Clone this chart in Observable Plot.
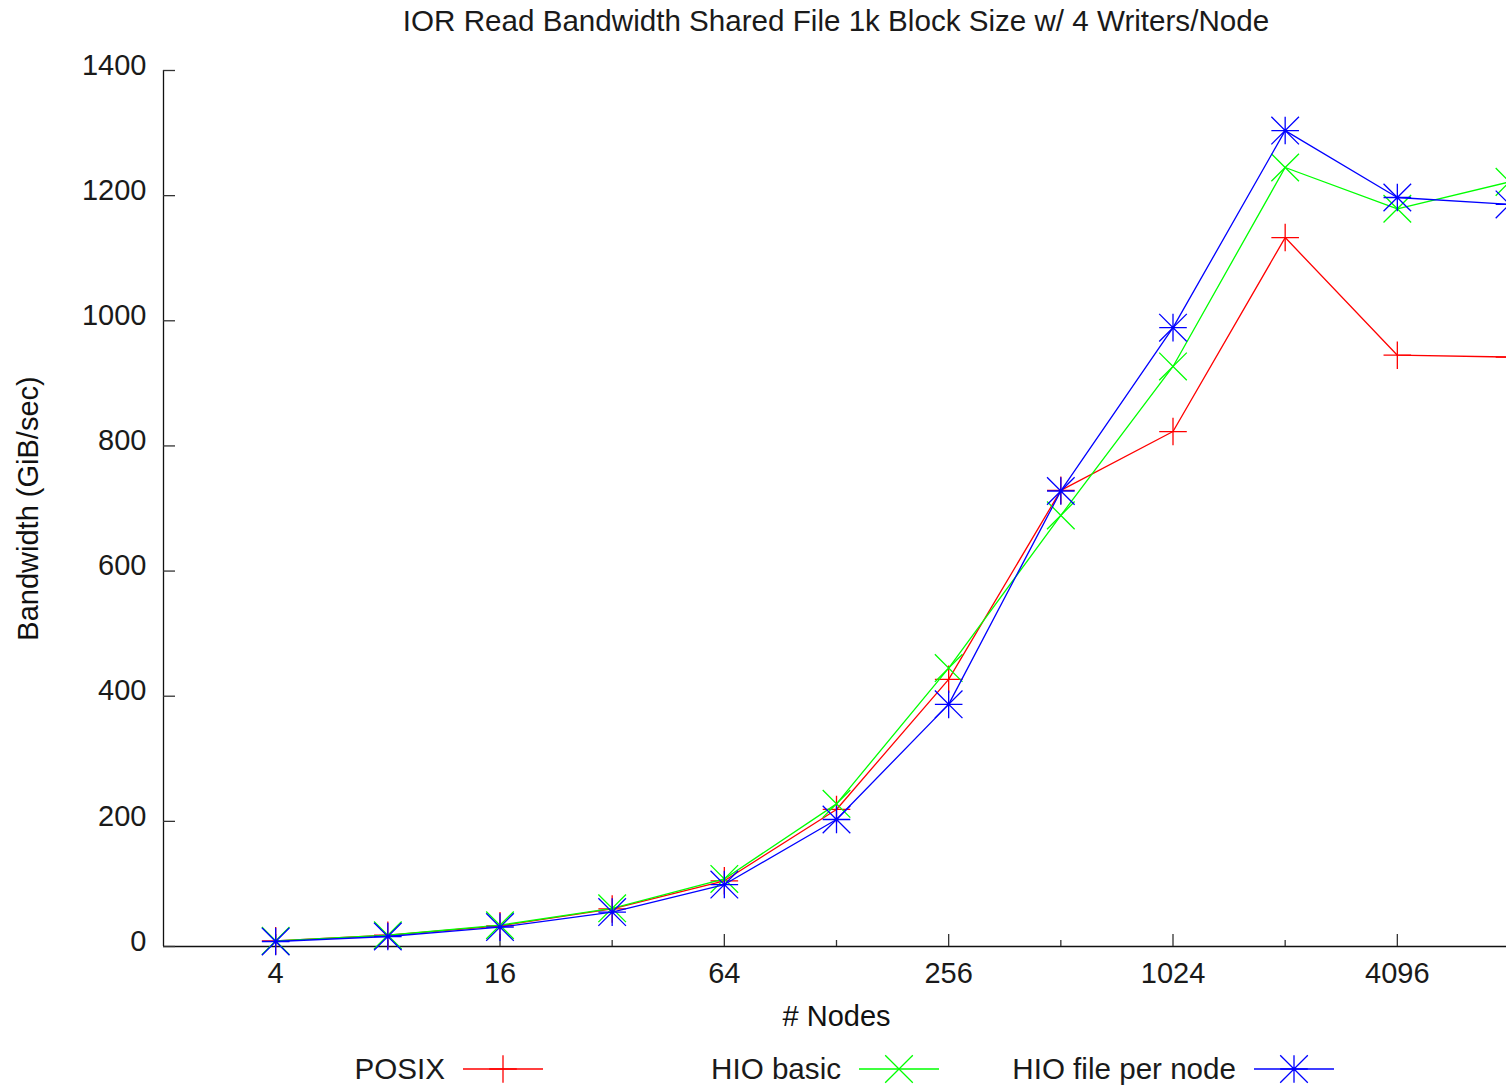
<!DOCTYPE html>
<html>
<head>
<meta charset="utf-8">
<script src="https://cdn.jsdelivr.net/npm/d3@7"></script>
<script src="https://cdn.jsdelivr.net/npm/@observablehq/plot@0.6"></script>
<style>
  html, body { margin: 0; padding: 0; background: #fff; }
  body { width: 1506px; height: 1089px; overflow: hidden; font-family: "Liberation Sans", Arial, Helvetica, sans-serif; color: #1a1a1a; }
  #title { position: relative; height: 42px; }
  #title span { position: absolute; left: 163px; width: 1346px; text-align: center; top: 0; line-height: 42px; font-size: 29.6px; }
  #chart { height: 998px; overflow: hidden; }
  #legend { position: relative; height: 49px; font-size: 29.6px; }
  .lg-text { position: absolute; top: 0; line-height: 58px; text-align: right; white-space: nowrap; }
  .lg-sym { position: absolute; top: 0; }
</style>
</head>
<body>
<div id="title"><span></span></div>
<div id="chart"></div>
<div id="legend"></div>
<script>
// ---- data ----
const titleText = "IOR Read Bandwidth Shared File 1k Block Size w/ 4 Writers/Node";
const xLabel = "# Nodes";
const yLabel = "Bandwidth (GiB/sec)";
const nodes = [4, 8, 16, 32, 64, 128, 256, 512, 1024, 2048, 4096, 8192];
const posix = [9, 18, 33, 60, 105, 219, 427, 729, 823, 1133, 945, 942];
const hioBasic = [9, 18, 34, 61, 108, 228, 445, 689, 927, 1245, 1179, 1222];
const hioFilePerNode = [8, 16, 31, 55, 99, 203, 387, 728, 989, 1304, 1197, 1186];
const seriesNames = ["POSIX", "HIO basic", "HIO file per node"];
const seriesColors = ["#ff0000", "#00ff00", "#0000ff"];
const xMajorTicks = [4, 16, 64, 256, 1024, 4096];
const xMinorTicks = [8, 32, 128, 512, 2048];
const yTicks = [0, 200, 400, 600, 800, 1000, 1200, 1400];
const xDomain = [2, 8192];
const yDomain = [0, 1400];

// ---- symbols (gnuplot-like stroked markers) ----
const symPlus = { draw(c, size) { const r = Math.sqrt(size / Math.PI);
  c.moveTo(-r, 0); c.lineTo(r, 0); c.moveTo(0, -r); c.lineTo(0, r); } };
const symTimes = { draw(c, size) { const r = Math.sqrt(size / Math.PI);
  c.moveTo(-r, -r); c.lineTo(r, r); c.moveTo(-r, r); c.lineTo(r, -r); } };
const symStar = { draw(c, size) { const r = Math.sqrt(size / Math.PI);
  c.moveTo(-r, 0); c.lineTo(r, 0); c.moveTo(0, -r); c.lineTo(0, r);
  c.moveTo(-r, -r); c.lineTo(r, r); c.moveTo(-r, r); c.lineTo(r, -r); } };
const symbols = [symPlus, symTimes, symStar];

const seriesValues = [posix, hioBasic, hioFilePerNode];
const rows = seriesValues.map((vals, s) => nodes.map((n, i) => ({ series: s, nodes: n, bw: vals[i] })));

// ---- layout ----
const W = 1506, H = 998;
const mL = 163, mR = -3, mT = 28, mB = 94;
const plotW = W - mL - mR, plotH = H - mT - mB;
const FS = 29;

const marks = [];
// axis lines
marks.push(Plot.ruleY([yDomain[0]], { y: d => d, stroke: "#111", strokeWidth: 1.3 }));
marks.push(Plot.ruleX([xDomain[0]], { x: d => d, stroke: "#111", strokeWidth: 1.3 }));
// ticks (inward)
marks.push(Plot.tickX(xMajorTicks, { x: d => d, insetTop: plotH - 12, stroke: "#333", strokeWidth: 1.3 }));
marks.push(Plot.tickX(xMinorTicks, { x: d => d, insetTop: plotH - 6, stroke: "#333", strokeWidth: 1.3 }));
marks.push(Plot.tickY(yTicks, { y: d => d, insetRight: plotW - 12, stroke: "#333", strokeWidth: 1.3 }));
// tick labels
marks.push(Plot.text(xMajorTicks, { x: d => d, text: d => String(d), frameAnchor: "bottom", lineAnchor: "middle", dy: 27, fontSize: FS, fill: "#1a1a1a" }));
marks.push(Plot.text(yTicks, { y: d => d, text: d => String(d), frameAnchor: "left", textAnchor: "end", lineAnchor: "middle", dx: -17, dy: -5, fontSize: FS, fill: "#1a1a1a" }));
// axis titles
marks.push(Plot.text([xLabel], { text: d => d, frameAnchor: "bottom", textAnchor: "middle", lineAnchor: "middle", dy: 70, fontSize: FS, fill: "#111" }));
marks.push(Plot.text([yLabel], { text: d => d, frameAnchor: "left", textAnchor: "middle", rotate: -90, lineAnchor: "middle", dx: -135, fontSize: FS, fill: "#111" }));
// series
rows.forEach((data, s) => {
  marks.push(Plot.line(data, { x: "nodes", y: "bw", stroke: seriesColors[s], strokeWidth: 1.3 }));
  marks.push(Plot.dot(data, { x: "nodes", y: "bw", symbol: symbols[s], r: 13.8, fill: "none", stroke: seriesColors[s], strokeWidth: 1.3 }));
});

const chart = Plot.plot({
  width: W, height: H,
  marginLeft: mL, marginRight: mR, marginTop: mT, marginBottom: mB,
  x: { type: "log", base: 2, domain: xDomain, axis: null },
  y: { type: "linear", domain: yDomain, axis: null },
  style: { fontFamily: '"Liberation Sans", Arial, Helvetica, sans-serif', fontSize: FS + "px", background: "white", overflow: "hidden" },
  marks
});
document.getElementById("chart").appendChild(chart);
document.querySelector("#title span").textContent = titleText;

// ---- legend ----
const legend = document.getElementById("legend");
const legendTextRight = [445, 841, 1236];
seriesNames.forEach((name, s) => {
  const t = document.createElement("div");
  t.className = "lg-text";
  t.style.right = (W - legendTextRight[s]) + "px";
  t.textContent = name;
  legend.appendChild(t);
  const svg = d3.create("svg").attr("class", "lg-sym").attr("width", 84).attr("height", 49)
    .style("left", (legendTextRight[s] + 17) + "px");
  svg.append("line").attr("x1", 1).attr("x2", 81).attr("y1", 29).attr("y2", 29)
    .attr("stroke", seriesColors[s]).attr("stroke-width", 1.3);
  const p = d3.path();
  symbols[s].draw(p, 13.8 * 13.8 * Math.PI);
  svg.append("path").attr("d", p.toString()).attr("transform", "translate(41,29)")
    .attr("fill", "none").attr("stroke", seriesColors[s]).attr("stroke-width", 1.3);
  legend.appendChild(svg.node());
});
</script>
</body>
</html>
